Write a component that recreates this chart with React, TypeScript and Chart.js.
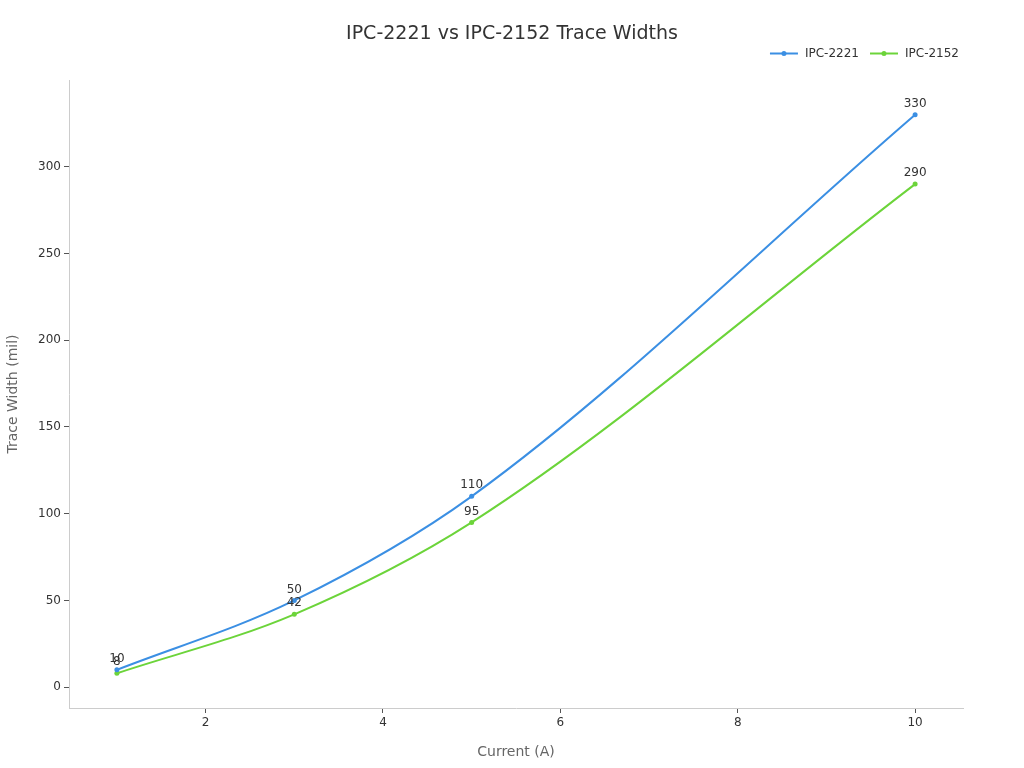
import React, { useEffect, useRef } from "react";
import { Chart, registerables } from "chart.js";

Chart.register(...registerables);

const currents = [1, 3, 5, 10];
const ipc2221 = [10, 50, 110, 330];
const ipc2152 = [8, 42, 95, 290];
const xTicks = [2, 4, 6, 8, 10];
const yTicks = [0, 50, 100, 150, 200, 250, 300];
const seriesNames = ["IPC-2221", "IPC-2152"];
const colors = ["#3b8fe3", "#6cd43a"];
const chartTitle = "IPC-2221 vs IPC-2152 Trace Widths";

const FONT = "'DejaVu Sans', sans-serif";

const labelPlugin = {
  id: "pointLabels",
  afterDatasetsDraw(chart: any) {
    const ctx = chart.ctx;
    ctx.save();
    ctx.font = `12px ${FONT}`;
    ctx.fillStyle = "#333";
    ctx.textAlign = "center";
    ctx.textBaseline = "middle";
    chart.data.datasets.forEach((ds: any, i: number) => {
      const meta = chart.getDatasetMeta(i);
      meta.data.forEach((pt: any, j: number) => {
        ctx.fillText(String(ds.data[j].y), pt.x, pt.y - 11);
      });
    });
    ctx.restore();
  },
};

const headerPlugin = {
  id: "header",
  afterDraw(chart: any) {
    const ctx = chart.ctx;
    ctx.save();
    ctx.font = `19px ${FONT}`;
    ctx.fillStyle = "#333";
    ctx.textAlign = "center";
    ctx.textBaseline = "middle";
    ctx.fillText(chartTitle, 512, 34);

    ctx.font = `12px ${FONT}`;
    ctx.textAlign = "left";
    const y = 53.5;
    const widths = seriesNames.map((n) => ctx.measureText(n).width);
    const total = widths.reduce((a, w) => a + 28 + 7 + w, 0) + 11 * (seriesNames.length - 1);
    let x = 959 - total;
    seriesNames.forEach((n, i) => {
      ctx.strokeStyle = colors[i];
      ctx.fillStyle = colors[i];
      ctx.lineWidth = 2;
      ctx.beginPath();
      ctx.moveTo(x, y);
      ctx.lineTo(x + 28, y);
      ctx.stroke();
      ctx.beginPath();
      ctx.arc(x + 14, y, 2.5, 0, Math.PI * 2);
      ctx.fill();
      ctx.fillStyle = "#333";
      ctx.fillText(n, x + 35, y);
      x += 35 + widths[i] + 11;
    });
    ctx.restore();
  },
};

export default function App() {
  const ref = useRef<HTMLCanvasElement>(null);
  useEffect(() => {
    document.body.style.margin = "0";
    const toPts = (arr: number[]) => currents.map((c, i) => ({ x: c, y: arr[i] }));
    const mk = (i: number, arr: number[]) => ({
      label: seriesNames[i],
      data: toPts(arr),
      borderColor: colors[i],
      backgroundColor: colors[i],
      borderWidth: 2,
      pointRadius: 2.5,
      pointBorderWidth: 0,
      cubicInterpolationMode: "monotone",
    });
    const chart = new Chart(ref.current!, {
      type: "line",
      data: { datasets: [mk(0, ipc2221), mk(1, ipc2152)] },
      options: {
        animation: false,
        responsive: false,
        devicePixelRatio: 1,
        layout: { padding: { left: 0, right: 61, top: 80, bottom: 0 } },
        plugins: {
          legend: { display: false },
          tooltip: { enabled: false },
          title: { display: false },
        },
        scales: {
          x: {
            type: "linear",
            min: 0.46,
            max: 10.54,
            afterBuildTicks: (axis: any) => {
              axis.ticks = xTicks.map((v) => ({ value: v }));
            },
            afterFit: (scale: any) => {
              scale.height = 60;
            },
            grid: { drawOnChartArea: false, drawTicks: true, tickLength: 5, color: "#ccc", tickColor: "#555" },
            border: { color: "#ccc" },
            ticks: { color: "#333", font: { family: FONT, size: 12 }, padding: 3 },
            title: {
              display: true,
              text: "Current (A)",
              color: "#666",
              font: { family: FONT, size: 14 },
              padding: { top: 4, bottom: 7 },
            },
          },
          y: {
            min: -12,
            max: 350,
            afterBuildTicks: (axis: any) => {
              axis.ticks = yTicks.map((v) => ({ value: v }));
            },
            afterFit: (scale: any) => {
              scale.width = 69;
            },
            grid: { drawOnChartArea: false, drawTicks: true, tickLength: 5, color: "#ccc", tickColor: "#555" },
            border: { color: "#ccc" },
            ticks: { color: "#333", font: { family: FONT, size: 12 }, padding: 3 },
            title: {
              display: true,
              text: "Trace Width (mil)",
              color: "#666",
              font: { family: FONT, size: 14 },
              padding: { top: 5, bottom: 4 },
            },
          },
        },
      },
      plugins: [labelPlugin, headerPlugin],
    } as any);
    return () => chart.destroy();
  }, []);
  return (
    <div style={{ width: 1024, height: 768, background: "#fff" }}>
      <canvas ref={ref} width={1024} height={768} style={{ display: "block" }} />
    </div>
  );
}
